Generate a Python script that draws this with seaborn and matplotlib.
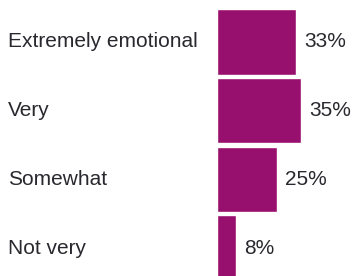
import matplotlib
matplotlib.use('Agg')
import matplotlib.pyplot as plt
import matplotlib.transforms as mtransforms
import pandas as pd
import seaborn as sns

categories = ['Extremely emotional', 'Very', 'Somewhat', 'Not very']
values = [33, 35, 25, 8]
value_labels = ['33%', '35%', '25%', '8%']

df = pd.DataFrame({'category': categories, 'pct': values})

sns.set_style('white')
plt.rcParams['font.family'] = ['Liberation Sans', 'DejaVu Sans']

fig = plt.figure(figsize=(3.54, 2.76), dpi=100)
ax = fig.add_axes([0, 0, 1, 1])

sns.barplot(data=df, x='pct', y='category', orient='h', color='#98106e',
            saturation=1, width=0.95, ax=ax)

# px per percent ~2.4, bar baseline at ~217px
ax.set_xlim(-90.4, 57.1)
ax.set_ylim(3.406, -0.611)

txt_color = '#28282f'
trans = mtransforms.blended_transform_factory(ax.transAxes, ax.transData)
for i, (cat, v, lab) in enumerate(zip(categories, values, value_labels)):
    ax.text(0.022, i, cat, transform=trans, ha='left', va='center',
            fontsize=15, color=txt_color)
    ax.text(v + 3.3, i, lab, ha='left', va='center', fontsize=15, color=txt_color)

ax.axis('off')
fig.savefig('out.png', dpi=100, facecolor='white')
